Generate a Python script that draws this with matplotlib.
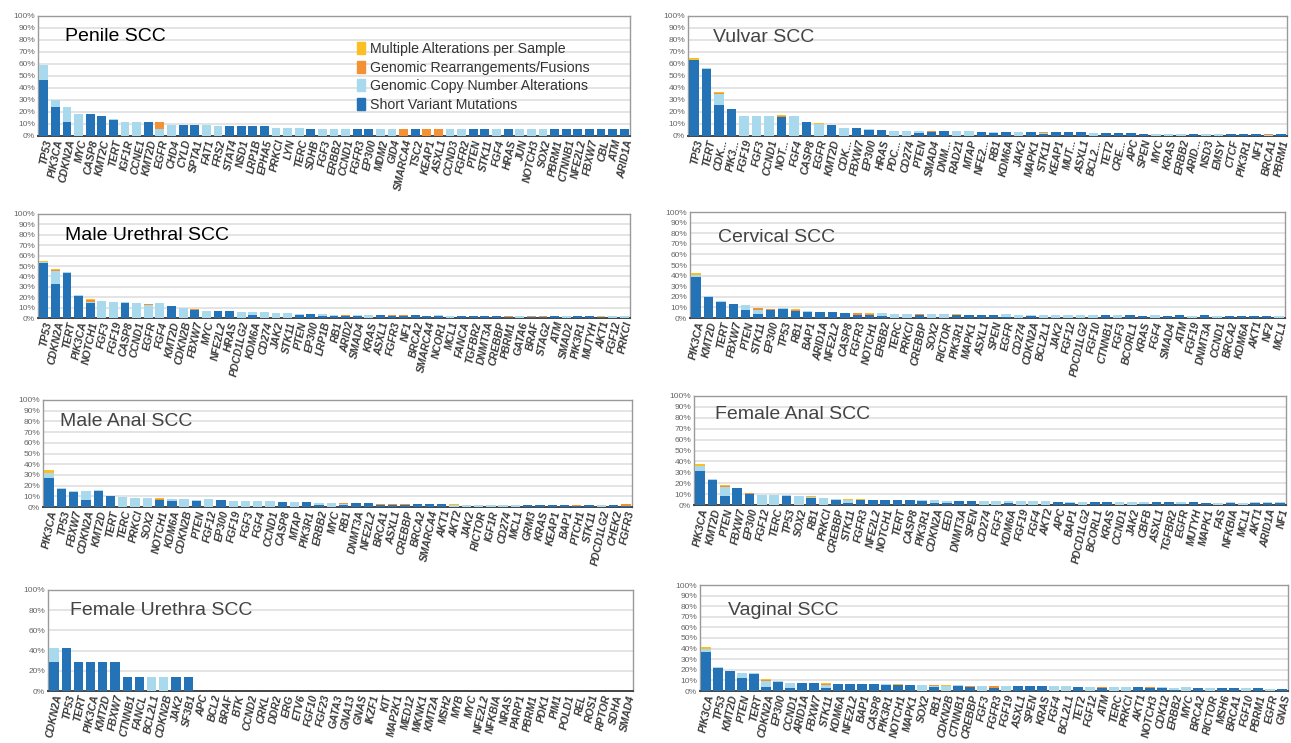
import matplotlib
matplotlib.use("Agg")
import matplotlib.pyplot as plt
from matplotlib.patches import Patch
import numpy as np

plt.rcParams['font.family'] = ['Liberation Sans', 'DejaVu Sans']

# ---------------- DATA ----------------
penile_genes = ["TP53","PIK3CA","CDKN2A","MYC","CASP8","KMT2C","TERT","IGF1R","CCNE1","KMT2D",
                "EGFR","CHD4","CYLD","SPTA1","FAT1","FRS2","STAT4","NSD1","LRP1B","EPHA5",
                "PRKCI","LYN","TERC","SDHB","FGF3","ERBB2","CCND1","FGFR3","EP300","MDM2",
                "GID4","SMARCA4","TSC2","KEAP1","ASXL1","CCND3","FGFR2","PTEN","STK11","FGF4",
                "HRAS","JUN","NOTCH3","SOX2","PBRM1","CTNNB1","NFE2L2","FBXW7","CBL","ATM","ARID1A"]
penile_sv = [47,24,12,0,18,17,13.5,0,0,12,
             0,0,9,9,0,0,8,8,8,8,
             0,0,0,6,0,0,0,6,6,0,
             0,0,6,0,0,0,0,6,6,0,
             6,0,0,0,6,6,6,6,6,6,6]
penile_cna = [12,6,12,18,0,0,0.5,12,12,0,
              6,9,0,0,9,8.5,0,0,0,0,
              7,7,7,0,6,6,6,0,0,6,
              6,0,0,0,0,6,6,0,0,6,
              0,6,6,6,0,0,0,0,0,0,0]
penile_re = [0,0,0,0,0,0,0,0,0,0,
             6,0,0,0,0,0,0,0,0,0,
             0,0,0,0,0,0,0,0,0,0,
             0,6,0,6,6,0,0,0,0,0,
             0,0,0,0,0,0,0,0,0,0,0]
penile_multi = [0]*51

vulvar_genes = ["TP53","TERT","CDK...","PIK3...","FGF19","FGF3","CCND1","NOT...","FGF4","CASP8",
                "EGFR","KMT2D","CDK...","FBXW7","EP300","HRAS","PDC...","CD274","PTEN","SMAD4",
                "DNM...","RAD21","MTAP","NFE2...","RB1","KDM6A","JAK2","MAPK1","STK11","KEAP1",
                "MUT...","ASXL1","BCL2...","TET2","CRE...","APC","SPEN","MYC","KRAS","ERBB2",
                "ARID...","NSD3","EMSY","CTCF","PIK3R1","NF1","BRCA1","PBRM1"]
vulvar_sv = [63,56,26,22.6,0,0,0,15.5,0,11.3,
             0,9.1,0,6.3,4.7,5,0,0,2.5,3.5,
             4,0,0,3.5,2.5,3,0,3,1.5,3,
             3,3,0,2.5,2.5,2.5,1.5,0,0,0,
             1.5,0,0,2,1.5,1.5,0,1.5]
vulvar_cna = [0.5,0.5,9,0,17,17,17,0.5,16.3,0.3,
              10,0,6.6,0.3,0.8,0,4.5,4.5,2,0,
              0,4,4,0,0.5,0,3,0.3,1.2,0,
              0,0,2.5,0,0,0,0,2,1.5,2,
              0,2,2,0,0,0,1,0]
vulvar_re = [0,0,1,0,0,0,0,1,0,0,
             0,0.4,0,0,0,0,0,0,0,0.5,
             0,0,0,0,0.5,0,0,0,0.3,0,
             0,0,0,0,0,0,0.4,0,0,0,
             0.5,0,0,0,0.5,0,0.5,0]
vulvar_multi = [1.5,0,0.5,0,0,0,0,0.5,0,0,
                0.5,0,0,0,0,0,0,0,0,0,
                0,0,0,0,0,0,0,0,0,0,
                0,0,0,0,0,0,0,0,0.4,0,
                0,0,0,0,0,0,0,0]

murethral_genes = ["TP53","CDKN2A","TERT","PIK3CA","NOTCH1","FGF3","FGF19","CASP8","CCND1","EGFR",
                   "FGF4","KMT2D","CDKN2B","FBXW7","MYC","NFE2L2","HRAS","PDCD1LG2","KDM6A","CD274",
                   "JAK2","STK11","PTEN","EP300","LRP1B","RB1","ARID2","SMAD4","KRAS","ASXL1",
                   "FGFR3","NF1","BRCA2","SMARCA4","NCOR1","MCL1","FANCA","TGFBR2","DNMT3A","CREBBP",
                   "PBRM1","GATA6","BRAF","STAG2","ATM","SMAD2","PIK3R1","MUTYH","AKT1","FGF12","PRKCI"]
murethral_sv = [52.5,33,43.5,21,14.5,0,0,14.6,0,0,
                0,11.4,0,7.6,0,6.3,6.3,0,3,0,
                0,0,2.5,3.8,1.5,2,2,2,0,2.8,
                2,2.2,2.5,2,2,0,1.8,2,2,2,
                1.2,0,1.2,1.2,1.7,0,1.7,1.7,1,0,0]
murethral_cna = [1,12.5,0.5,1.2,1,16,15.6,0.4,14.6,12.5,
                 14,0.6,9.5,0.5,6.3,0,0,5.7,2.5,5.4,
                 4.8,4.8,1.5,0,2,0.7,0,0.8,2.8,0,
                 0,0,0,0,0.5,2,0,0.3,0.3,0.3,
                 0,1.8,0,0,0,1.5,0,0,0,1.5,1.5]
murethral_re = [0,1,0,0,1.5,0,0,0,0,0.5,
                0,0,0.3,0.4,0.3,0,0,0,0,0,
                0,0,0,0.5,0,0.5,0.5,0,0,0,
                0.5,0.3,0,0.3,0,0,0,0,0,0,
                0.5,0,0.5,0.5,0,0,0,0,0,0,0]
murethral_multi = [1.5,0.5,0,0,1,0,0,0,0,0.7,
                   0,0,0,0,0.4,0,0,0,0,0,
                   0,0,0,0,0,0,0.3,0,0,0,
                   0.3,0,0,0,0,0,0,0,0,0,
                   0,0,0,0,0,0,0,0,0.7,0,0]

cervical_genes = ["PIK3CA","KMT2D","TERT","FBXW7","PTEN","STK11","EP300","TP53","RB1","BAP1",
                  "ARID1A","NFE2L2","CASP8","FGFR3","NOTCH1","ERBB2","TERC","PRKCI","CREBBP","SOX2",
                  "RICTOR","PIK3R1","MAPK1","ASXL1","SPEN","EGFR","CD274","CDKN2A","BCL2L1","JAK2",
                  "FGF12","PDCD1LG2","FGF10","CTNNB1","FGF3","BCORL1","KRAS","FGF4","SMAD4","ATM",
                  "FGF19","DNMT3A","CCND1","BRCA2","KDM6A","AKT1","NF2","MCL1"]
cervical_sv = [39,20,15.3,12.8,8,4,7.8,8.8,6.3,6,
               5.3,5.3,4.7,2.5,3.2,1.5,0,0,3.3,0,
               0,3,3,3,3,1,0,1.5,0,0,
               0,0,0,2.5,0,2.5,2.3,0,2.3,2.5,
               0,2.5,0,2.3,2,2,2,0]
cervical_cna = [1.5,0.5,0.7,0.6,4,3.5,0,0.6,0.5,0.6,
                0.5,0,0.3,0,0,3,4,4,0,4,
                4,0,0,0,0.3,2.5,3,1.3,3,2.7,
                2.7,2.7,2.7,0.3,2.5,0.3,0,2.5,0,0.4,
                2.3,0.3,2.3,0,0,0,0,2]
cervical_re = [0,0.3,0,0,0.3,2,0.8,0,1,0,
               0,0,0,2,1,0.3,0,0,0.5,0,
               0,0.3,0.3,0.3,0,0,0,0.3,0,0,
               0,0,0,0,0,0,0,0,0,0,
               0,0,0,0,0,0,0,0]
cervical_multi = [2,0,0,0,0.4,0,0.3,0,0.5,0,
                  0,0,0,0.6,0.4,0.3,0,0,0,0,
                  0,0.3,0,0,0,0,0,0,0,0,
                  0,0,0,0,0,0,0,0,0,0,
                  0,0,0,0,0,0,0,0]

manal_genes = ["PIK3CA","TP53","FBXW7","CDKN2A","KMT2D","TERT","TERC","PRKCI","SOX2","NOTCH1",
               "KDM6A","CDKN2B","PTEN","FGF12","EP300","FGF19","FGF3","FGF4","CCND1","CASP8",
               "MTAP","PIK3R1","ERBB2","MYC","RB1","DNMT3A","NFE2L2","BRCA1","ASXL1","CREBBP",
               "BRCA2","SMARCA4","AKT1","AKT2","JAK2","RICTOR","IGF1R","CD274","MCL1","GRM3",
               "KRAS","KEAP1","BAP1","PTCH1","STK11","PDCD1LG2","CHEK2","FGFR3"]
manal_sv = [27,17.2,14,7,15,10,0,0,0,6.6,
            5.6,0,5.6,0,6.2,0,0,0,0,4.4,
            0,4.4,1.5,0,2,3.8,3.8,1.5,1.8,2,
            3,3,3,0,0,0,0,0,0,2.3,
            1.8,2.3,2.3,1,1.8,0,2.3,1]
manal_cna = [4.5,0.9,0.5,8,0.6,0,9.4,8.4,8.4,0,
             1.9,7.8,1.3,7.2,0.3,5.3,5.3,5.3,5.3,0,
             4.4,0,2.2,3.7,1,0,0,0,0,0,
             0,0,0,1.5,2.3,2.3,2.3,2.3,2.3,0,
             0,0,0,0,0,2.3,0,0]
manal_re = [0.3,0,0.8,0,0,0,0,0,0,0.9,
            0,0,0,0,0,0,0,0,0,0,
            0,0,0,0,0.8,0,0,1,1,1,
            0,0,0,0,0,0,0,0,0,0,
            0,0,0,1.3,0,0,0,1.5]
manal_multi = [2.5,0,0,0,0,0,0,0,0,0.5,
               0,0,0,0,0,0,0,0,0,0,
               0,0,0,0,0,0,0,0.5,0,0,
               0,0,0,1,0,0,0,0,0,0,
               0,0,0,0,0,0,0,0]

fanal_genes = ["PIK3CA","KMT2D","PTEN","FBXW7","EP300","FGF12","TERC","TP53","SOX2","RB1",
               "PRKCI","CREBBP","STK11","FGFR3","NFE2L2","NOTCH1","TERT","CASP8","PIK3R1","CDKN2A",
               "EED","DNMT3A","SPEN","CD274","FGF3","KDM6A","FGF19","FGF4","AKT2","APC",
               "BAP1","PDCD1LG2","BCORL1","KRAS","CCND1","JAK2","CBFB","ASXL1","TGFBR2","EGFR",
               "MUTYH","MAPK1","FAS","NFKBIA","MCL1","AKT1","ARID1A","NF1"]
fanal_sv = [31.5,23,8.5,15.5,10,0,0,8.2,0,6,
            0,4.8,1.8,4.5,4.8,4.2,4.5,4.5,4,1.8,
            1.5,3.6,3.6,0,0,2,0,0,0,2.4,
            2.2,0,2.4,2.4,0,0,1.2,2.4,2.4,0.8,
            2.4,2.2,0,1.8,0,1.8,1.8,1.8]
fanal_cna = [4,0.7,8.2,0.5,0,8.8,8.8,0.6,7.9,1,
             6.4,0.3,2.4,0,0,0,0,0,0.4,2.4,
             2.4,0.4,0,3.3,3.3,1.3,3.3,3.3,3.3,0.6,
             0.5,2.7,0.4,0,2.4,2.4,1.2,0,0,1.6,
             0,0,1.8,0.5,1.8,0.5,0.6,0.5]
fanal_re = [0,0,0.6,0,0.6,0,0,0,0,0.6,
            0,0,0.6,0.3,0,0.6,0,0,0,0,
            0,0,0,0,0,0,0,0,0,0,
            0,0,0,0,0,0,0,0,0,0,
            0,0,0,0,0,0,0,0]
fanal_multi = [2.5,0.4,0.6,0,0.6,0,0,0,0,0.4,
               0,0,0.4,0.3,0,0,0,0,0,0,
               0,0,0,0,0,0,0,0,0,0,
               0,0,0,0,0,0,0,0,0,0,
               0,0,0,0,0,0,0,0]

furethra_genes = ["CDKN2A","TP53","TERT","PIK3CA","KMT2D","FBXW7","CTNNB1","FANCL","BCL2L1","CDKN2B",
                  "JAK2","SF3B1","APC","BCL2","BRAF","BTK","CCND2","CRKL","DDR2","ERG",
                  "ETV6","FGF10","FGF23","GATA3","GNA13","GNAS","IKZF1","KIT","MAP2K1","MED12",
                  "MKNK1","KMT2A","MSH2","MYB","MYC","NFE2L2","NFKBIA","NRAS","PARP1","PBRM1",
                  "PDK1","PIM1","POLD1","REL","ROS1","RPTOR","SDHA","SMAD4"]
furethra_sv = [28.6,42.9,28.6,28.6,28.6,28.6,14.3,14.3,0,0,14.3,14.3] + [0]*36
furethra_cna = [14.3,0,0,0,0,0,0,0,14.3,14.3,0,0] + [0]*36
furethra_re = [0]*48
furethra_multi = [0]*48

vaginal_genes = ["PIK3CA","TP53","KMT2D","PTEN","TERT","CDKN2A","EP300","CCND1","ARID1A","FBXW7",
                 "STK11","KDM6A","NFE2L2","BAP1","CASP8","PIK3R1","NOTCH1","MAPK1","SOX2","RB1",
                 "CDKN2B","CTNNB1","CREBBP","FGF3","FGFR3","FGF19","ASXL1","SPEN","KRAS","FGF4",
                 "BCL2L1","TET2","FGF12","ATM","TERC","PRKCI","AKT1","NOTCH3","CDK12","ERBB2",
                 "MYC","BRCA2","RICTOR","MSH6","BRCA1","FGF10","PBRM1","EGFR","GNAS"]
vaginal_sv = [37,21.6,18.4,12.2,16,4,8.4,2.5,7.5,7.5,
              3,6.2,6.5,6.2,6.5,6,5.5,5.7,0,4,
              0,4.8,3.8,0,3,0,4.3,4.3,4.3,0,
              0,3.8,0,2.5,0,0,3.4,2.5,3.3,1,
              0,2.8,0,2.8,2.8,0,2.5,0,1.8]
vaginal_cna = [3,0.9,0.6,4.4,0.6,5.4,0.6,4.7,0,0,
               2.6,0.7,0,0.4,0,0.6,0,0,5.7,0.8,
               5,0.5,0,5,0,5,0.4,0.4,0.4,4.7,
               4.3,0,3.8,0.6,3.8,3.8,0.4,0.6,0.2,2.1,
               3.4,0.3,3.1,0.3,0.3,3,0.3,2,0.2]
vaginal_re = [0,0,0,0,0,1.2,0,0,0,0,
              1,0,0,0,0,0,0.5,0,0,0.6,
              0,0,1,0,2,0,0,0,0,0,
              0,0,0,0.4,0,0,0,0.4,0,0,
              0,0,0,0,0,0,0,0,0]
vaginal_multi = [1.3,0,0,0,0,0.3,0,0,0,0,
                 0.6,0,0,0,0,0,0.3,0,0,0.2,
                 0.3,0,0,0,0,0,0,0,0,0,
                 0,0,0,0.3,0,0,0,0.2,0,0,
                 0,0,0,0,0,0,0,0,0]

legend_labels = ["Multiple Alterations per Sample", "Genomic Rearrangements/Fusions",
                 "Genomic Copy Number Alterations", "Short Variant Mutations"]

# ---------------- STYLE ----------------
C_SV = "#2473b6"
C_CNA = "#a9d9ec"
C_RE = "#f39234"
C_MULTI = "#fbbf24"

W, H = 1291, 743
fig = plt.figure(figsize=(W / 100, H / 100), dpi=100)

def add_panel(box, title, tpos, genes, sv, cna, re, multi, ystep=10, title_color="#444444"):
    x0, x1, ytop, ybot = box
    ax = fig.add_axes([x0 / W, 1 - ybot / H, (x1 - x0) / W, (ybot - ytop) / H])
    n = len(genes)
    x = np.arange(n)
    sv = np.array(sv, float); cna = np.array(cna, float)
    re = np.array(re, float); multi = np.array(multi, float)
    bw = 0.76
    ax.bar(x, sv, bw, color=C_SV, zorder=3)
    ax.bar(x, cna, bw, bottom=sv, color=C_CNA, zorder=3)
    ax.bar(x, re, bw, bottom=sv + cna, color=C_RE, zorder=3)
    ax.bar(x, multi, bw, bottom=sv + cna + re, color=C_MULTI, zorder=3)
    ax.set_xlim(-0.5, n - 0.5)
    ax.set_ylim(0, 100)
    ticks = np.arange(0, 101, ystep)
    ax.set_yticks(ticks)
    ax.set_yticklabels([f"{t}%" for t in ticks], fontsize=6, color="#666666")
    ax.yaxis.grid(True, color="#e2e2e2", lw=1.3, zorder=0)
    ax.set_axisbelow(True)
    ax.tick_params(axis='y', length=0, pad=2)
    ax.tick_params(axis='x', length=0, pad=2)
    ax.set_xticks(x)
    ax.set_xticklabels(genes, rotation=78, ha='right', va='top', rotation_mode='anchor',
                       fontsize=7.6, style='italic', fontweight='bold', color="#3a3a3a")
    for s in ['top', 'right', 'left']:
        ax.spines[s].set_color("#9a9a9a")
        ax.spines[s].set_linewidth(1.0)
    ax.spines['bottom'].set_color("#444444")
    ax.spines['bottom'].set_linewidth(1.4)
    ax.text(tpos[0], tpos[1], title, transform=ax.transAxes, fontsize=14,
            color=title_color, ha='left', va='center', zorder=5)
    return ax

ax_p = add_panel((38, 630, 16, 136), "Penile SCC", (0.046, 0.83),
                 penile_genes, penile_sv, penile_cna, penile_re, penile_multi, title_color="#000000")
add_panel((688, 1287, 16, 136), "Vulvar SCC", (0.042, 0.82),
          vulvar_genes, vulvar_sv, vulvar_cna, vulvar_re, vulvar_multi)
add_panel((38, 630, 214, 318), "Male Urethral SCC", (0.046, 0.79),
          murethral_genes, murethral_sv, murethral_cna, murethral_re, murethral_multi, title_color="#000000")
add_panel((690, 1285, 212, 318), "Cervical SCC", (0.047, 0.76),
          cervical_genes, cervical_sv, cervical_cna, cervical_re, cervical_multi)
add_panel((43, 632, 400, 507), "Male Anal SCC", (0.029, 0.80),
          manal_genes, manal_sv, manal_cna, manal_re, manal_multi)
add_panel((694, 1286, 396, 505), "Female Anal SCC", (0.036, 0.83),
          fanal_genes, fanal_sv, fanal_cna, fanal_re, fanal_multi)
add_panel((48, 633, 590, 691), "Female Urethra SCC", (0.038, 0.80),
          furethra_genes, furethra_sv, furethra_cna, furethra_re, furethra_multi, ystep=20)
add_panel((700, 1288, 585, 691), "Vaginal SCC", (0.047, 0.76),
          vaginal_genes, vaginal_sv, vaginal_cna, vaginal_re, vaginal_multi)

handles = [Patch(color=C_MULTI), Patch(color=C_RE), Patch(color=C_CNA), Patch(color=C_SV)]
ax_p.legend(handles, legend_labels, loc='upper left', bbox_to_anchor=(0.53, 0.83),
            frameon=False, fontsize=10.2, handlelength=0.55, handleheight=0.9,
            handletextpad=0.35, labelspacing=0.32, borderaxespad=0, labelcolor="#333333")

fig.savefig("out.png", dpi=100)
